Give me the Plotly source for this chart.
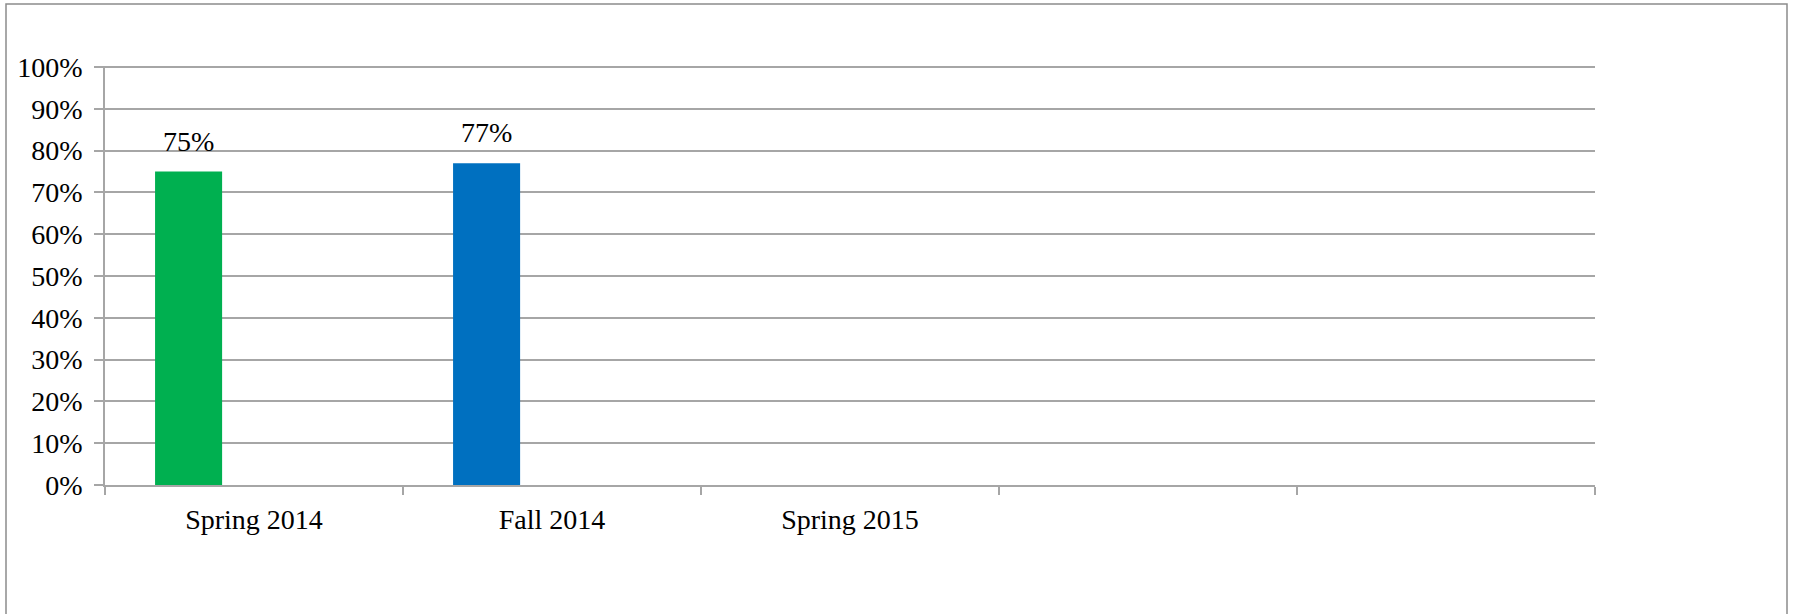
import plotly.graph_objects as go

categories = ["Spring 2014", "Fall 2014", "Spring 2015", "", ""]
values = [75, 77, None, None, None]
bar_colors = ["#00B050", "#0070C0", "#00B050", "#00B050", "#00B050"]
y_ticks = [0, 10, 20, 30, 40, 50, 60, 70, 80, 90, 100]
y_tick_labels = [f"{v}%" for v in y_ticks]
value_labels = [f"{v}%" if v is not None else "" for v in values]

W, H = 1794, 614
ML, MR, MT, MB = 105, 199, 66, 129
PW, PH = W - ML - MR, H - MT - MB

FONT = "Liberation Serif"
FS = 28
xs = list(range(len(categories)))

fig = go.Figure()
fig.add_trace(go.Bar(
    x=xs, y=values,
    marker=dict(color=bar_colors, line=dict(width=0)),
    width=0.225, offset=-0.332,
    showlegend=False,
    hoverinfo="skip",
))

for x, v, lab in zip(xs, values, value_labels):
    if v is None:
        continue
    fig.add_annotation(
        x=x - 0.332 + 0.225 / 2, y=v, text=lab,
        showarrow=False, xanchor="center", yanchor="bottom", yshift=13,
        font=dict(family=FONT, size=FS, color="#000000"),
    )

fig.update_layout(
    width=W, height=H,
    margin=dict(l=ML, r=MR, t=MT, b=MB, pad=0),
    paper_bgcolor="white", plot_bgcolor="white",
    font=dict(family=FONT, size=FS, color="#000000"),
    showlegend=False,
)

fig.update_xaxes(
    range=[-0.5, len(categories) - 0.5],
    tickvals=xs, ticktext=categories,
    ticks="", showgrid=False, zeroline=False,
    showline=True, linecolor="#A6A6A6", linewidth=1.5,
    tickfont=dict(family=FONT, size=FS, color="#000000"),
    ticklabelstandoff=9,
    minor=dict(tickvals=[i - 0.5 for i in range(len(categories) + 1)],
               ticks="outside", ticklen=8, tickcolor="#A6A6A6", tickwidth=1.5,
               showgrid=False),
    fixedrange=True,
)

fig.update_yaxes(
    range=[0, 100.25],
    tickvals=y_ticks, ticktext=y_tick_labels,
    ticks="outside", ticklen=9, tickcolor="#A6A6A6", tickwidth=1.5,
    showgrid=True, gridcolor="#A6A6A6", gridwidth=1.5,
    zeroline=False,
    showline=True, linecolor="#A6A6A6", linewidth=1.5,
    tickfont=dict(family=FONT, size=FS, color="#000000"),
    ticklabelstandoff=6,
    fixedrange=True,
)

# Outer chart border
fig.add_shape(
    type="rect", xref="paper", yref="paper",
    x0=(6 - ML) / PW, x1=(1787 - ML) / PW,
    y0=(H - MB - 640) / PH, y1=(H - MB - 4) / PH,
    line=dict(color="#8C8C8C", width=1.5), fillcolor="rgba(0,0,0,0)",
    layer="below",
)

fig.write_html(
    "out.html",
    config={"displayModeBar": False},
    post_script="document.body.style.margin='0';document.body.style.padding='0';document.body.style.overflow='hidden';",
)
